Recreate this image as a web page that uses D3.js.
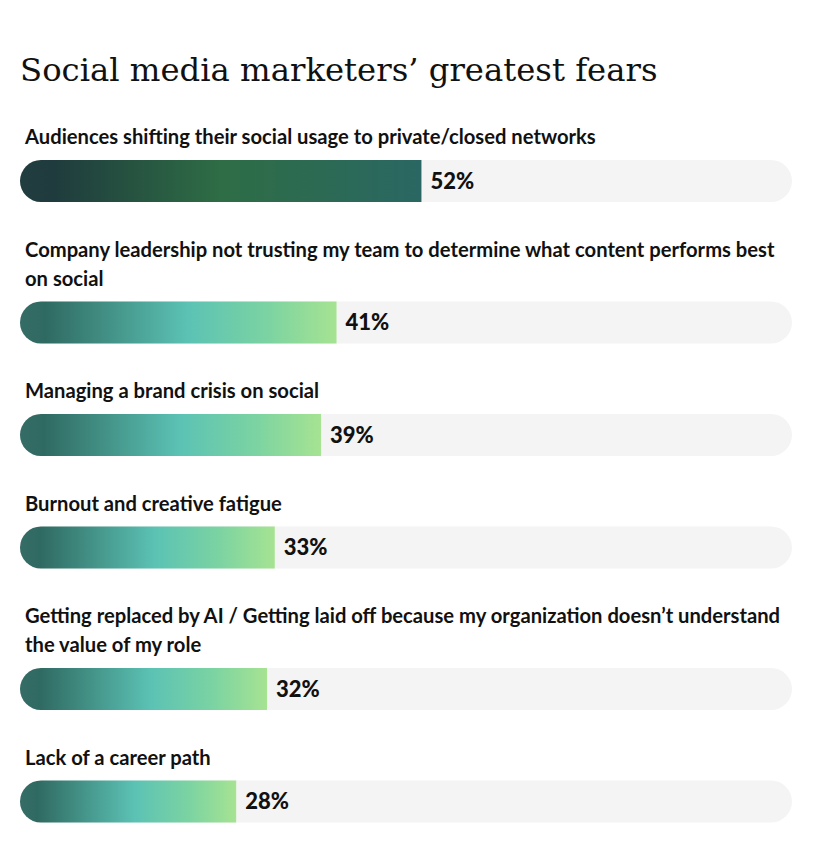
<!DOCTYPE html>
<html>
<head>
<meta charset="utf-8">
<script src="https://cdn.jsdelivr.net/npm/d3@7"></script>
<style>
  html, body { margin: 0; padding: 0; background: #fff; }
  svg { display: block; }
</style>
</head>
<body>
<svg id="chart" width="822" height="868"></svg>
<script>
// chart data
const title = 'Social media marketers\u2019 greatest fears';
const labels = [
  ['Audiences shifting their social usage to private/closed networks'],
  ['Company leadership not trusting my team to determine what content performs best', 'on social'],
  ['Managing a brand crisis on social'],
  ['Burnout and creative fatigue'],
  ['Getting replaced by AI / Getting laid off because my organization doesn\u2019t understand', 'the value of my role'],
  ['Lack of a career path']
];
const values = [52, 41, 39, 33, 32, 28];

const svg = d3.select('#chart');
const margin = { left: 20, right: 30 },
  barH = 42,
  r = barH / 2,
  lineH = 29;

const x = d3.scaleLinear().domain([0, 100]).range([margin.left, 822 - margin.right]);

// gradients
const defs = svg.append('defs');
function grad(id, stops) {
  const g = defs.append('linearGradient').attr('id', id)
    .attr('x1', 0).attr('x2', 1).attr('y1', 0).attr('y2', 0);
  stops.forEach(([o, c]) => g.append('stop').attr('offset', o).attr('stop-color', c));
}
grad('g-top', [[0, '#223d3f'], [0.08, '#1f3b3d'], [0.5, '#2e6d45'], [1, '#2a6763']]);
grad('g-rest', [[0, '#356c66'], [0.08, '#2f6a62'], [0.3, '#45958a'], [0.53, '#5bc2b4'], [0.78, '#7bd3a2'], [1, '#a6e392']]);

svg.append('text')
  .attr('x', 20).attr('y', 81)
  .style('font-family', '"DejaVu Serif", serif')
  .style('font-size', '32.3px')
  .style('fill', '#111')
  .text(title);

// row layout
let tops = [], cur = 160;
labels.forEach((l, i) => {
  if (i > 0) cur += 112.5 + lineH * (l.length - 1);
  tops.push(cur);
});

const rows = svg.selectAll('.row')
  .data(values.map((v, i) => ({ v, lines: labels[i], top: tops[i], i })))
  .enter().append('g').attr('class', 'row');

const labelFont = 'Lato, sans-serif';
// fit label size so the first label spans about the same width as the original
const probe = svg.append('text').style('font-family', labelFont).style('font-weight', 700)
  .style('font-size', '17px').text(labels[0][0]);
const labelSize = 17 * 571 / probe.node().getComputedTextLength();
probe.remove();

rows.each(function (d) {
  const g = d3.select(this);
  d.lines.forEach((t, k) => {
    g.append('text')
      .attr('x', 25)
      .attr('y', d.top - 23 - lineH * (d.lines.length - 1 - k))
      .attr('dy', '0.35em')
      .style('font-family', labelFont)
      .style('font-weight', 700)
      .style('font-size', labelSize + 'px')
      .style('fill', '#111')
      .text(t);
  });
});

// track
rows.append('rect')
  .attr('x', x(0)).attr('y', d => d.top)
  .attr('width', x(100) - x(0)).attr('height', barH)
  .attr('rx', r)
  .style('fill', '#f4f4f4');

// bar: rounded left, flat right
rows.append('path')
  .attr('d', d => {
    const x0 = x(0), x1 = x(d.v), y0 = d.top;
    return `M${x1},${y0}H${x0 + r}A${r},${r} 0 0 0 ${x0 + r},${y0 + barH}H${x1}Z`;
  })
  .style('fill', d => d.i === 0 ? 'url(#g-top)' : 'url(#g-rest)');

rows.append('text')
  .attr('x', d => x(d.v) + 9)
  .attr('y', d => d.top + barH / 2)
  .attr('dy', '0.36em')
  .style('font-family', labelFont)
  .style('font-weight', 900)
  .style('font-size', '22px')
  .style('fill', '#111')
  .text(d => d.v + '%');
</script>
</body>
</html>
